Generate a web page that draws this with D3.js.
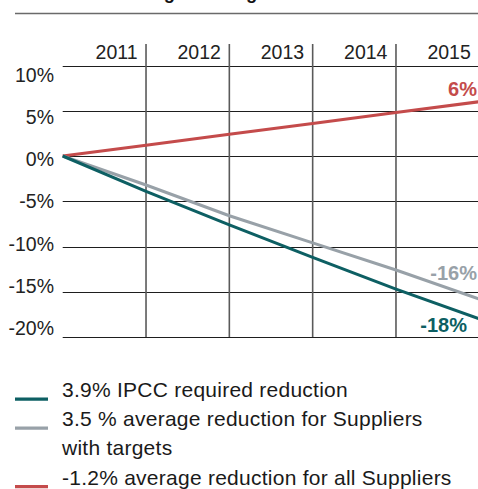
<!DOCTYPE html>
<html>
<head>
<meta charset="utf-8">
<script src="https://cdn.jsdelivr.net/npm/d3@7"></script>
<style>
  html, body { margin: 0; padding: 0; background: #fff; }
  svg { display: block; font-family: "Liberation Sans", Arial, Helvetica, sans-serif; }
</style>
</head>
<body>
<svg id="chart" width="478" height="489"></svg>
<script>
// ---- data ----
const titleText = "Emissions against targets";
const years = [2010, 2011, 2012, 2013, 2014, 2015];
const yearLabels = ["2011", "2012", "2013", "2014", "2015"];
const yTicks = [10, 5, 0, -5, -10, -15, -20];
const ipcc = [0, -3.9, -7.6, -11.2, -14.7, -18.0];
const withTargets = [0, -3.2, -6.6, -9.6, -12.6, -15.8];
const allSuppliers = [0, 1.2, 2.4, 3.6, 4.8, 6.0];
const endLabels = ["-18%", "-16%", "6%"];
const legendLabels = [
  ["3.9% IPCC required reduction"],
  ["3.5 % average reduction for Suppliers", "with targets"],
  ["-1.2% average reduction for all Suppliers"]
];
const colors = ["#0d5f63", "#98a1a8", "#c44b4b"];

// ---- drawing ----
const svg = d3.select("#chart");

// partially visible title + rule
svg.append("text")
  .attr("x", 57).attr("y", -1.5)
  .attr("font-size", "18.3px").attr("font-weight", "bold").attr("fill", "#111")
  .text(titleText);
svg.append("line")
  .attr("x1", 15).attr("x2", 478).attr("y1", 13.5).attr("y2", 13.5)
  .attr("stroke", "#6a6a6a").attr("stroke-width", 1.6);

const x = d3.scaleLinear().domain([2010, 2015]).range([62.7, 479.3]);
const y = d3.scaleLinear().domain([-20, 10]).range([337, 65.5]);
const yLab = d3.scaleLinear().domain([-20, 10]).range([335, 81.7]);

// horizontal gridlines
svg.append("g").selectAll("line").data(yTicks).join("line")
  .attr("x1", x(2010)).attr("x2", 478)
  .attr("y1", d => Math.round(y(d)) + 0.5).attr("y2", d => Math.round(y(d)) + 0.5)
  .attr("stroke", "#1e1e1e").attr("stroke-width", 1.1);

// vertical year separators
svg.append("g").selectAll("line").data(years.slice(1, 5)).join("line")
  .attr("x1", d => x(d)).attr("x2", d => x(d))
  .attr("y1", 44).attr("y2", y(-20))
  .attr("stroke", "#5a5a5a").attr("stroke-width", 1.6);

// year labels
svg.append("g").selectAll("text").data(yearLabels).join("text")
  .attr("x", (d, i) => x(years[i + 1]) - 8.5)
  .attr("y", 59)
  .attr("text-anchor", "end")
  .attr("font-size", "19.5px").attr("fill", "#222")
  .text(d => d);

// y tick labels
svg.append("g").selectAll("text").data(yTicks).join("text")
  .attr("x", 54)
  .attr("y", d => yLab(d))
  .attr("text-anchor", "end")
  .attr("font-size", "19.5px").attr("fill", "#222")
  .text(d => d + "%");

// series lines
const series = [ipcc, withTargets, allSuppliers];
const line = d3.line().x((d, i) => x(years[i])).y(d => y(d));
const drawOrder = [2, 1, 0];
drawOrder.forEach(k => {
  svg.append("path")
    .datum(series[k])
    .attr("d", line)
    .attr("fill", "none")
    .attr("stroke", colors[k])
    .attr("stroke-width", 3)
    .attr("stroke-linecap", "butt");
});

// end labels
const endOffsets = [{dx: 467, dy: 13}, {dx: 477, dy: -19}, {dx: 477, dy: -6}];
series.forEach((s, k) => {
  svg.append("text")
    .attr("x", endOffsets[k].dx)
    .attr("y", y(s[s.length - 1]) + endOffsets[k].dy)
    .attr("text-anchor", "end")
    .attr("font-size", "20px").attr("font-weight", "bold")
    .attr("fill", colors[k])
    .text(endLabels[k]);
});

// legend
const legendBase = [397, 426, 484.5];
const lg = svg.append("g");
legendLabels.forEach((lines, k) => {
  lg.append("line")
    .attr("x1", 15).attr("x2", 48)
    .attr("y1", legendBase[k] + 2.2).attr("y2", legendBase[k] + 2.2)
    .attr("stroke", colors[k]).attr("stroke-width", 3.2);
  lines.forEach((t, j) => {
    lg.append("text")
      .attr("x", 62)
      .attr("y", legendBase[k] + j * 29)
      .attr("font-size", "21px").attr("fill", "#1a1a1a")
      .attr("letter-spacing", "0.25px")
      .text(t);
  });
});
</script>
</body>
</html>
